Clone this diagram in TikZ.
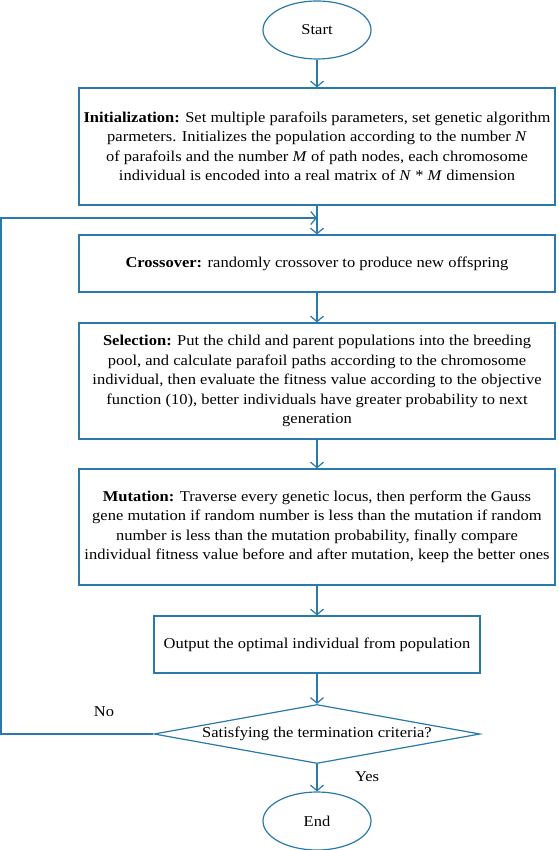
\documentclass[tikz,border=0pt]{standalone}
\usepackage{fontspec}
\setmainfont{Liberation Serif}[FakeStretch=1.1]
\usepackage{tikz}
\usetikzlibrary{shapes.geometric,arrows,arrows.meta,positioning}
\definecolor{flowblue}{RGB}{41,121,170}

\begin{document}
\begin{tikzpicture}[x=1pt, y=-1pt, line width=1.2pt, font=\fontsize{15}{19.5}\selectfont, >={Straight Barb[length=5.5pt,width=13pt]}]
   \useasboundingbox (0,0) rectangle (558,850);
   \begin{scope}[every node/.style={draw=flowblue,align=center,inner sep=2pt}]
    \node (start) [ellipse,minimum width=108pt,minimum height=58pt] at (317,30) {Start};
    \node (init) [rectangle,minimum width=476pt,minimum height=117pt] at (317,146.5) {\textbf{Initialization:} Set multiple parafoils parameters, set genetic algorithm\\ parmeters. Initializes the population according to the number \textit{N}\\ of parafoils and the number \textit{M} of path nodes, each chromosome\\ individual is encoded into a real matrix of \textit{N} * \textit{M} dimension};
    \node (cross) [rectangle,minimum width=476pt,minimum height=57pt] at (317,263.5) {\textbf{Crossover:} randomly crossover to produce new offspring};
    \node (sel) [rectangle,minimum width=476pt,minimum height=116pt] at (317,381) {\textbf{Selection:} Put the child and parent populations into the breeding\\ pool, and calculate parafoil paths according to the chromosome\\ individual, then evaluate the fitness value according to the objective\\ function (10), better individuals have greater probability to next\\ generation};
    \node (mut) [rectangle,minimum width=476pt,minimum height=116pt] at (317,527) {\textbf{Mutation:} Traverse every genetic locus, then perform the Gauss\\ gene mutation if random number is less than the mutation if random\\ number is less than the mutation probability, finally compare\\ individual fitness value before and after mutation, keep the better ones};
    \node (out) [rectangle,minimum width=326pt,minimum height=57pt] at (317,644.5) {Output the optimal individual from population};
    \node (crit) [diamond,minimum width=326pt,minimum height=59pt,inner sep=0pt,label={center:Satisfying the termination criteria?}] at (317,734) {};
    \node (end) [ellipse,minimum width=108pt,minimum height=58pt] at (317,821) {End};
   \end{scope}
   \node (no) at (104,712) {No};
   \node (yes) at (367,777) {Yes};
   \coordinate (corner) at (1,218);
   \coordinate (join) at (317,218);
   \begin{scope}[->,draw=flowblue,every edge/.style={draw=flowblue,line width=1.2pt}]
    \draw  (start) edge (init);
    \draw  (init) edge (cross);
    \draw  (cross) edge (sel);
    \draw  (sel) edge (mut);
    \draw  (mut) edge (out);
    \draw  (out) edge (crit);
    \draw  (crit) edge (end);
    \draw  (crit.west) -| (corner) -- (join);
   \end{scope}
\end{tikzpicture}
\end{document}
